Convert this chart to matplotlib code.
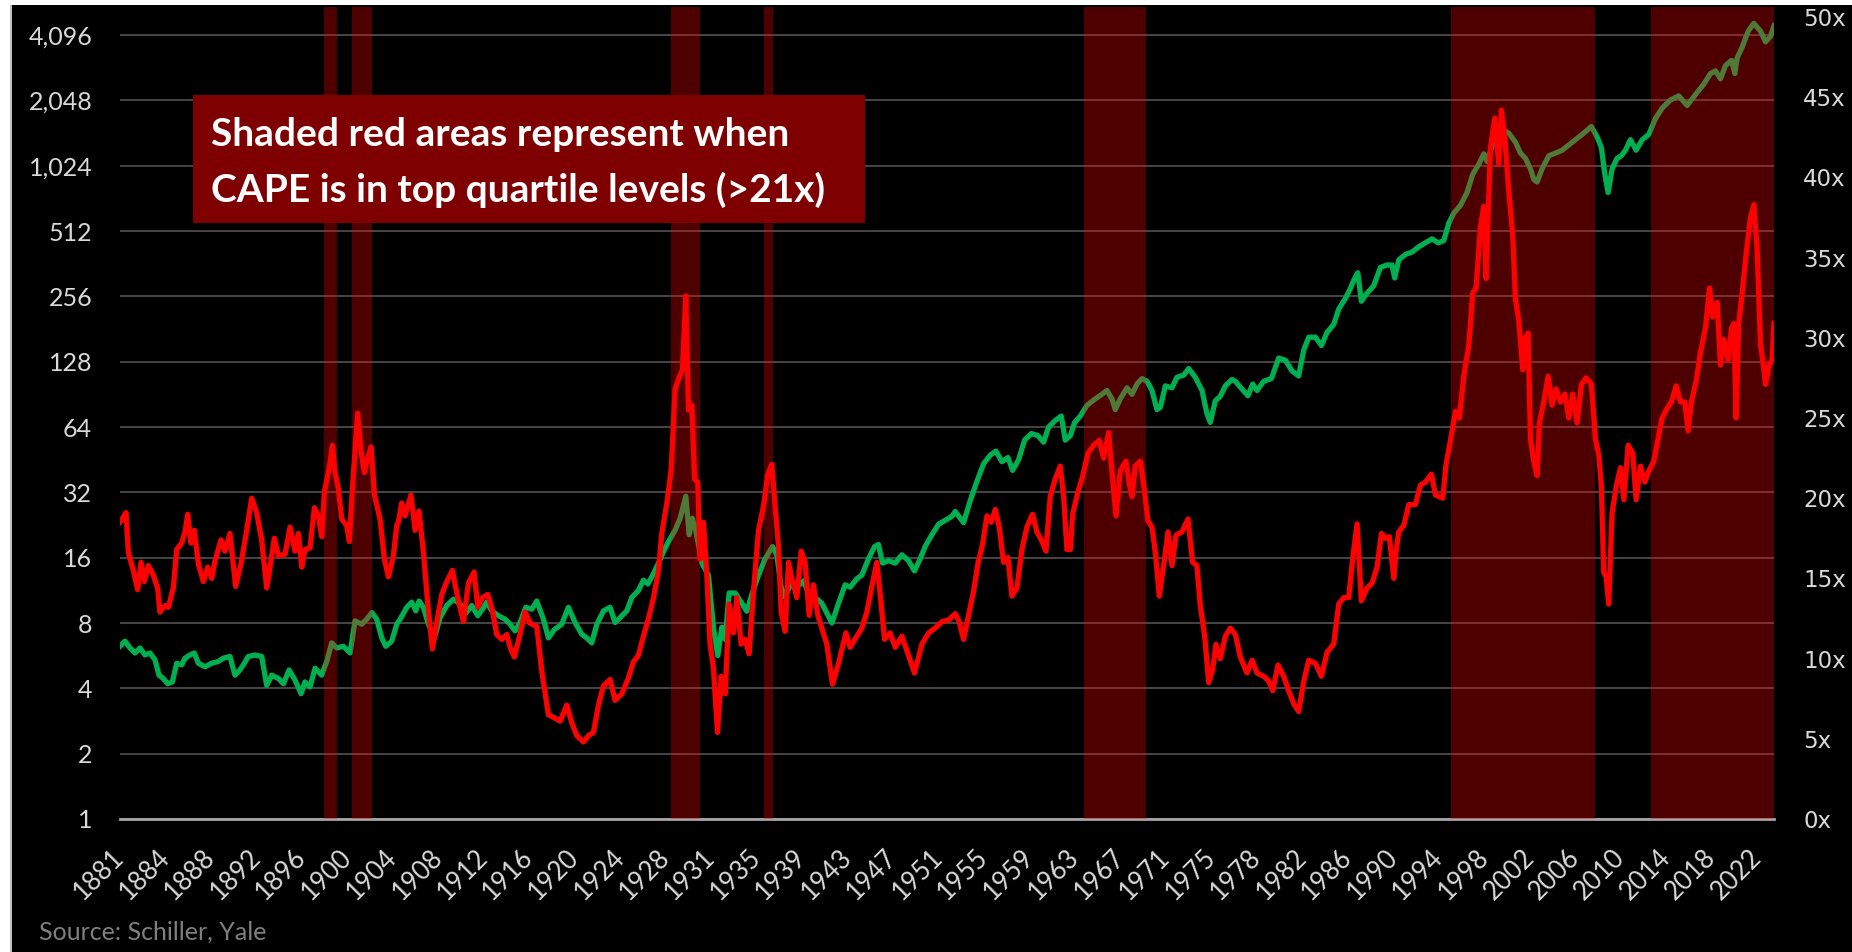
import numpy as np
import matplotlib.pyplot as plt
from matplotlib.patches import Rectangle
from matplotlib.ticker import FixedLocator, FuncFormatter

plt.rcParams['font.family'] = ['Lato', 'DejaVu Sans']

# Shiller CAPE (right axis): (year, value)
cape_years = [1881.00, 1881.52, 1881.72, 1882.15, 1882.52, 1882.81, 1883.10, 1883.44, 1883.87, 1884.24,
              1884.44, 1884.88, 1885.16, 1885.59, 1885.88, 1886.31, 1886.60, 1886.83, 1887.11, 1887.40,
              1887.75, 1888.18, 1888.55, 1888.90, 1889.18, 1889.70, 1890.04, 1890.47, 1890.96, 1891.42,
              1891.91, 1892.34, 1892.77, 1893.20, 1893.63, 1893.92, 1894.29, 1894.64, 1895.21, 1895.64,
              1896.07, 1896.36, 1896.65, 1896.93, 1897.36, 1897.74, 1898.08, 1898.37, 1898.60, 1899.00,
              1899.29, 1899.52, 1899.80, 1900.09, 1900.52, 1900.75, 1901.01, 1901.47, 1901.76, 1902.04,
              1902.33, 1902.62, 1902.91, 1903.39, 1903.77, 1904.11, 1904.54, 1904.83,
              1904.97, 1905.26, 1905.55, 1906.06, 1906.41, 1906.75, 1907.13, 1907.50, 1907.90, 1908.28,
              1908.71, 1909.14, 1909.62, 1910.08, 1910.57, 1911.00, 1911.49, 1911.81, 1912.21, 1912.67,
              1913.07, 1913.44, 1913.87, 1914.30, 1914.59, 1914.96, 1915.37, 1915.88, 1916.31, 1916.89,
              1917.32, 1917.89, 1918.41, 1918.90, 1919.47, 1919.90, 1920.33, 1920.91, 1921.34, 1921.77,
              1922.20, 1922.63, 1923.20, 1923.63, 1924.21, 1924.78, 1925.21, 1925.64, 1926.07, 1926.51,
              1926.94, 1927.37, 1927.65, 1928.09, 1928.46,
              1928.80, 1929.14, 1929.43, 1929.72, 1929.95, 1930.24, 1930.47, 1930.75, 1930.95, 1931.24,
              1931.53, 1931.81, 1932.10, 1932.45, 1932.76, 1933.11, 1933.45, 1933.82, 1934.11, 1934.48,
              1934.83, 1935.17, 1935.55, 1935.98, 1936.41, 1936.78, 1937.13, 1937.41, 1937.70, 1937.93,
              1938.27, 1938.56, 1938.85, 1939.28, 1939.65, 1939.99, 1940.34, 1940.71, 1941.09, 1941.43,
              1941.86, 1942.35, 1942.87, 1943.50, 1943.87, 1944.45, 1944.88, 1945.31, 1945.74, 1946.17,
              1946.54, 1946.83, 1947.32, 1947.75, 1948.32, 1948.90, 1949.41, 1950.05, 1950.62, 1951.19,
              1951.77, 1952.34,
              1952.92, 1953.26, 1953.64, 1954.07, 1954.50, 1954.87, 1955.27, 1955.65, 1956.02, 1956.37,
              1956.71, 1957.08, 1957.46, 1957.80, 1958.23, 1958.66, 1959.09, 1959.58, 1959.95, 1960.33,
              1960.73, 1961.10, 1961.53, 1961.96, 1962.25, 1962.54, 1962.83, 1963.03, 1963.49, 1963.83,
              1964.35, 1964.84, 1965.32, 1965.70, 1966.13, 1966.41, 1966.76, 1967.13, 1967.62, 1967.91,
              1968.14, 1968.42, 1968.85, 1969.14, 1969.51, 1969.86, 1970.15, 1970.49, 1970.86, 1971.24,
              1971.58, 1971.93, 1972.44, 1972.96, 1973.36, 1973.73, 1974.02, 1974.40, 1974.74, 1975.08,
              1975.37, 1975.74, 1976.18, 1976.61,
              1977.04, 1977.47, 1978.04, 1978.48, 1978.91, 1979.48, 1979.91, 1980.26, 1980.71, 1981.20,
              1981.63, 1982.06, 1982.49, 1982.93, 1983.36, 1983.93, 1984.45, 1984.94, 1985.51, 1985.94,
              1986.37, 1986.80, 1987.15, 1987.52, 1987.89, 1988.38, 1988.81, 1989.24, 1989.62, 1989.96,
              1990.30, 1990.68, 1990.88, 1991.11, 1991.54, 1991.97, 1992.54, 1992.97, 1993.40, 1993.92,
              1994.27, 1994.90, 1995.18, 1995.56, 1995.99, 1996.33, 1996.71, 1997.14, 1997.48, 1997.77,
              1998.14, 1998.43, 1998.63, 1999.00, 1999.38, 1999.72, 1999.95, 2000.24, 2000.58, 2000.93,
              2001.16, 2001.44,
              2001.79, 2001.96, 2002.25, 2002.45, 2002.74, 2003.02, 2003.22, 2003.60, 2003.97, 2004.31,
              2004.66, 2005.03, 2005.41, 2005.75, 2006.09, 2006.47, 2006.84, 2007.24, 2007.70, 2008.05,
              2008.33, 2008.56, 2008.76, 2008.96, 2009.19, 2009.48, 2009.83, 2010.20, 2010.49, 2010.86,
              2011.26, 2011.55, 2011.92, 2012.30, 2012.64, 2013.07, 2013.44, 2013.79, 2014.22, 2014.59,
              2014.99, 2015.37, 2015.74, 2016.03, 2016.31, 2016.72, 2017.09, 2017.52, 2017.87, 2018.15,
              2018.53, 2018.81, 2019.10, 2019.47, 2019.76, 2019.96, 2020.16, 2020.39, 2020.74, 2021.02,
              2021.40, 2021.68, 2021.97, 2022.26, 2022.55, 2022.69, 2022.98, 2023.26, 2023.42]
cape_values = [18.5, 19.1, 16.6, 15.5, 14.3, 16.0, 14.8, 15.8, 15.2, 14.4,
               12.9, 13.3, 13.2, 14.4, 16.8, 17.2, 17.9, 19.0, 17.2, 18.0,
               15.9, 14.8, 15.7, 15.0, 16.1, 17.4, 16.7, 17.8, 14.5, 15.9,
               18.0, 20.0, 19.1, 17.4, 14.4, 15.7, 17.5, 16.4, 16.5, 18.2,
               16.7, 17.8, 15.7, 16.8, 16.9, 19.4, 18.9, 17.6, 20.4, 21.8,
               23.3, 21.6, 20.6, 18.7, 18.3, 17.3, 20.6, 25.3, 22.9, 21.6,
               22.5, 23.2, 20.2, 18.7, 16.2, 15.1, 16.4, 18.3,
               18.5, 19.7, 18.9, 20.2, 18.0, 19.2, 16.6, 13.4, 10.6, 12.3,
               14.0, 14.8, 15.5, 13.8, 12.3, 14.7, 15.4, 13.2, 13.8, 14.0,
               13.0, 11.5, 11.2, 11.5, 10.7, 10.1, 11.3, 12.9, 12.2, 12.0,
               9.2, 6.5, 6.3, 6.1, 7.1, 6.0, 5.2, 4.8, 5.2, 5.4,
               7.1, 8.3, 8.7, 7.4, 7.8, 8.8, 9.8, 10.2, 11.4, 12.5,
               13.8, 15.5, 17.8, 19.7, 21.8,
               26.8, 27.5, 28.0, 32.6, 25.5, 25.8, 21.2, 21.0, 16.2, 18.5,
               15.2, 10.9, 9.4, 5.4, 8.9, 7.8, 13.4, 11.6, 13.8, 10.9,
               11.2, 10.3, 14.2, 18.0, 19.5, 21.5, 22.1, 19.5, 17.0, 12.9,
               11.7, 16.0, 15.0, 13.8, 16.7, 16.0, 12.7, 14.6, 12.7, 11.9,
               10.9, 8.4, 9.7, 11.6, 10.7, 11.4, 11.9, 12.9, 14.5, 16.0,
               13.4, 11.2, 11.6, 10.7, 11.4, 10.2, 9.1, 10.9, 11.6, 11.9,
               12.3, 12.4,
               12.8, 12.3, 11.2, 12.7, 14.2, 15.9, 17.1, 18.9, 18.5, 19.3,
               18.2, 16.0, 16.3, 13.9, 14.4, 16.8, 18.2, 19.0, 17.9, 17.4,
               16.7, 20.1, 21.2, 22.0, 20.1, 16.8, 16.8, 19.0, 20.4, 21.2,
               22.8, 23.3, 23.6, 22.5, 24.1, 21.7, 18.9, 21.7, 22.3, 20.9,
               20.1, 22.0, 22.3, 20.9, 18.6, 18.2, 16.6, 13.9, 15.8, 17.9,
               15.8, 17.7, 17.9, 18.7, 16.0, 15.8, 13.3, 11.4, 8.5, 9.3,
               10.9, 10.0, 11.4, 11.9,
               11.5, 10.1, 9.1, 9.9, 9.1, 8.9, 8.6, 8.0, 9.6, 8.9,
               8.0, 7.2, 6.7, 8.6, 9.9, 9.7, 8.9, 10.4, 10.9, 13.4,
               13.8, 13.8, 16.3, 18.4, 13.6, 14.4, 14.7, 15.7, 17.8, 17.5,
               17.6, 15.0, 16.7, 17.9, 18.3, 19.6, 19.6, 20.8, 21.0, 21.5,
               20.2, 20.0, 22.1, 23.6, 25.4, 25.0, 27.6, 29.5, 32.8, 33.1,
               36.9, 38.2, 33.7, 41.8, 43.7, 40.8, 44.2, 42.4, 39.2, 36.3,
               32.4, 31.1,
               28.0, 29.9, 30.3, 23.7, 22.3, 21.4, 24.7, 26.0, 27.6, 25.8,
               26.8, 26.0, 26.5, 25.0, 26.5, 24.7, 27.1, 27.5, 27.1, 23.7,
               22.7, 20.7, 15.4, 15.1, 13.4, 19.1, 20.7, 21.9, 19.9, 23.3,
               22.8, 19.9, 22.0, 21.0, 21.7, 22.3, 23.7, 25.0, 25.6, 26.0,
               27.0, 26.0, 26.0, 24.2, 26.0, 27.3, 29.1, 30.6, 33.1, 31.3,
               32.2, 28.3, 29.9, 28.6, 30.6, 30.9, 25.0, 30.9, 33.2, 35.2,
               37.5, 38.3, 35.5, 29.6, 28.0, 27.1, 28.3, 28.6, 30.9]

# S&P composite price (left log axis): (year, value)
price_years = [1881.00, 1881.43, 1881.86, 1882.29, 1882.72, 1883.15, 1883.58, 1884.01, 1884.36, 1884.73,
               1885.10, 1885.51, 1885.88, 1886.31, 1886.60, 1887.03, 1887.40, 1887.75, 1888.32, 1888.90,
               1889.47, 1889.90, 1890.47, 1890.90, 1891.33, 1891.62, 1892.05, 1892.63, 1893.20, 1893.63,
               1894.06, 1894.64, 1895.07, 1895.56, 1896.07, 1896.59, 1896.93, 1897.36, 1897.80, 1898.37,
               1898.80, 1899.23, 1899.66, 1900.24, 1900.81, 1901.24, 1901.81, 1902.25, 1902.68, 1903.11,
               1903.54, 1903.88, 1904.40, 1904.83,
               1905.12, 1905.69, 1906.12, 1906.47, 1906.75, 1907.13, 1907.56, 1908.07, 1908.56, 1909.14,
               1909.71, 1910.28, 1910.72, 1911.29, 1911.81, 1912.21, 1912.58, 1913.01, 1913.59, 1914.16,
               1914.59, 1915.02, 1915.45, 1915.94, 1916.46, 1916.89, 1917.46, 1917.89, 1918.41, 1919.04,
               1919.61, 1920.19, 1920.76, 1921.19, 1921.62, 1922.06, 1922.63, 1923.20, 1923.63, 1924.21,
               1924.64, 1925.07, 1925.64, 1926.07, 1926.45, 1926.94, 1927.37, 1927.80, 1928.23,
               1928.80, 1929.23, 1929.72, 1930.01, 1930.29, 1930.58, 1931.10, 1931.67, 1932.10, 1932.47,
               1932.82, 1933.11, 1933.45, 1933.97, 1934.54, 1934.97, 1935.40, 1935.98, 1936.55, 1937.18,
               1937.56, 1937.93, 1938.27, 1938.71, 1939.28, 1939.85, 1940.28, 1940.86, 1941.43, 1941.95,
               1942.30, 1942.87, 1943.44, 1943.87, 1944.45, 1944.88, 1945.45, 1945.97, 1946.31, 1946.66,
               1947.17, 1947.75, 1948.32, 1948.90, 1949.41, 1949.90, 1950.33, 1950.91, 1951.48, 1952.06,
               1952.63,
               1952.92, 1953.64, 1954.21, 1954.79, 1955.36, 1955.94, 1956.42, 1956.94, 1957.46, 1957.86,
               1958.38, 1958.89, 1959.47, 1960.04, 1960.53, 1960.96, 1961.53, 1962.05, 1962.39, 1962.83,
               1963.20, 1963.69, 1964.26, 1964.98, 1965.55, 1965.98, 1966.41, 1966.70, 1967.13, 1967.71,
               1968.14, 1968.57, 1969.00, 1969.43, 1969.86, 1970.29, 1970.58, 1971.01, 1971.58, 1972.01,
               1972.59, 1973.02, 1973.59, 1974.17, 1974.60, 1974.88, 1975.31, 1975.74, 1976.18, 1976.75,
               1977.04, 1977.61, 1978.13, 1978.53, 1978.91, 1979.48, 1980.14, 1980.77, 1981.35, 1981.92,
               1982.49, 1982.93, 1983.36, 1983.93, 1984.45, 1984.94, 1985.51, 1985.94, 1986.51, 1986.95,
               1987.23, 1987.58, 1987.89, 1988.38, 1988.95, 1989.53, 1990.10, 1990.53, 1990.76, 1991.11,
               1991.68, 1992.26, 1992.83, 1993.40, 1993.98, 1994.50, 1994.98, 1995.41, 1995.84, 1996.42,
               1996.99, 1997.48, 1998.00, 1998.43, 1998.72, 1999.15, 1999.72, 2000.15, 2000.58,
               2001.16, 2001.59, 2002.02, 2002.45, 2002.74, 2003.02, 2003.45, 2004.03, 2004.60, 2005.18,
               2005.75, 2006.32, 2006.90, 2007.70, 2008.19, 2008.56, 2008.85, 2009.14, 2009.48, 2009.91,
               2010.29, 2010.63, 2011.06, 2011.55, 2012.07, 2012.64, 2013.21, 2013.79, 2014.51, 2015.22,
               2015.94, 2016.66, 2017.38, 2017.95, 2018.38, 2018.81, 2019.24, 2019.76, 2020.05, 2020.25,
               2020.68, 2021.20, 2021.68, 2022.26, 2022.69, 2023.12, 2023.42]
price_values = [6.25, 6.6, 6.14, 5.82, 6.14, 5.7, 5.82, 5.42, 4.6, 4.44,
                4.2, 4.28, 5.22, 5.13, 5.51, 5.7, 5.82, 5.22, 5.03, 5.22,
                5.32, 5.51, 5.61, 4.6, 4.86, 5.13, 5.61, 5.7, 5.61, 4.13,
                4.6, 4.44, 4.2, 4.86, 4.37, 3.78, 4.28, 4.06, 4.95, 4.6,
                5.32, 6.48, 6.14, 6.25, 5.82, 8.18, 7.9, 8.33, 8.94, 8.33,
                6.83, 6.25, 6.6, 7.9,
                8.33, 9.45, 9.98, 9.1, 10.1, 9.45, 7.9, 6.83, 8.47, 9.63,
                10.3, 9.8, 8.8, 9.63, 8.64, 9.27, 9.98, 9.1, 8.64, 8.33,
                7.9, 7.36, 8.04, 9.45, 9.27, 10.1, 8.33, 6.83, 7.47, 7.9,
                9.45, 8.04, 7.1, 6.83, 6.48, 7.9, 9.1, 9.45, 8.04, 8.64,
                9.1, 10.5, 11.3, 12.6, 12.1, 13.5, 15.1, 17.1, 19.0,
                21.4, 24.3, 30.7, 20.4, 24.3, 21.4, 15.1, 13.3, 7.65, 5.66,
                7.65, 6.72, 11.0, 11.0, 9.87, 9.07, 10.8, 13.3, 15.8, 18.0,
                16.5, 11.7, 10.5, 12.0, 11.7, 12.5, 11.0, 10.5, 9.87, 8.7,
                8.0, 9.87, 12.0, 11.7, 12.8, 13.3, 15.8, 18.0, 18.4, 15.1,
                15.5, 15.1, 16.5, 15.5, 13.9, 15.8, 18.0, 20.4, 22.8, 23.8,
                24.8,
                26.1, 23.2, 29.3, 36.0, 43.3, 47.5, 49.6, 44.3, 46.3, 40.4,
                45.3, 55.7, 59.7, 58.4, 54.5, 64.0, 68.6, 71.9, 55.7, 58.4,
                67.2, 71.9, 80.5, 86.3, 90.5, 94.4, 86.3, 77.0, 86.3, 97.0,
                90.5, 101, 107, 104, 94.4, 77.0, 78.8, 99.0, 97.0, 108.5,
                111, 119, 108.5, 94.4, 73.5, 67.2, 84.4, 88.6, 99.0, 106,
                104, 95.7, 89.2, 101, 94.3, 104, 107, 133, 130, 116,
                110, 145, 166, 166, 152, 175, 190, 224, 250, 279,
                303, 329, 243, 265, 286, 348, 357, 357, 311, 377,
                399, 410, 433, 452, 471, 452, 462, 554, 618, 672,
                771, 935, 1040, 1162, 1070, 1261, 1408, 1489, 1448,
                1313, 1170, 1107, 990, 885, 861, 990, 1139, 1170, 1207,
                1276, 1349, 1427, 1552, 1387, 1241, 936, 770, 990, 1107,
                1139, 1207, 1349, 1207, 1349, 1427, 1688, 1887, 2058, 2148,
                1940, 2178, 2435, 2722, 2800, 2574, 2960, 3130, 2722, 3218,
                3605, 4270, 4640, 4270, 3810, 4040, 4520]

# periods when CAPE sat in its top quartile (shaded)
band_starts = [1898.54, 1900.96, 1928.46, 1936.47, 1963.97, 1995.64, 2012.85]
band_ends = [1899.69, 1902.73, 1930.96, 1937.27, 1969.31, 2008.04, 2023.42]

left_ticks = [1, 2, 4, 8, 16, 32, 64, 128, 256, 512, 1024, 2048, 4096]
right_ticks = [0, 5, 10, 15, 20, 25, 30, 35, 40, 45, 50]
year_labels = ['1881', '1884', '1888', '1892', '1896', '1900', '1904', '1908', '1912', '1916',
               '1920', '1924', '1928', '1931', '1935', '1939', '1943', '1947', '1951', '1955',
               '1959', '1963', '1967', '1971', '1975', '1978', '1982', '1986', '1990', '1994',
               '1998', '2002', '2006', '2010', '2014', '2018', '2022']
label_step_months = 47

W, H = 1852, 952
fig = plt.figure(figsize=(W / 100, H / 100), dpi=100, facecolor='black')

# white screenshot edge at top/left
fig.patches.append(Rectangle((0, 0), 10 / W, 1, transform=fig.transFigure, facecolor='white', lw=0))
fig.patches.append(Rectangle((0, 1 - 5 / H), 1, 5 / H, transform=fig.transFigure, facecolor='white', lw=0))
fig.patches.append(Rectangle((10 / W, 0), 1.5 / W, 1 - 5 / H, transform=fig.transFigure,
                             facecolor='#bfbfbf', lw=0))

ax = fig.add_axes([120 / W, 133 / H, 1654 / W, 812 / H])
ax.set_facecolor('black')
ax.set_yscale('log', base=2)
ax.set_xlim(1881, 2023.42)
ax.set_ylim(1, 2 ** ((819 - 7) / 65.33))

ax.plot(price_years, price_values, color='#00b050', lw=3.8, zorder=2, solid_joinstyle='round')
for s, e in zip(band_starts, band_ends):
    ax.axvspan(s, e, color='#ff0000', alpha=0.31, lw=0, zorder=3)

ax.yaxis.set_major_locator(FixedLocator(left_ticks))
ax.yaxis.set_minor_locator(FixedLocator([]))
ax.yaxis.set_major_formatter(FuncFormatter(lambda v, p: f'{v:,.0f}'))
ax.grid(axis='y', color='#595959', lw=1.1, zorder=1)
ax.set_axisbelow(True)
ax.tick_params(axis='y', length=0, pad=20, labelsize=18, labelcolor='#d9d9d9')

xticks = [1881 + k * label_step_months / 12 for k in range(len(year_labels))]
ax.set_xticks(xticks)
ax.set_xticklabels(year_labels, rotation=45, ha='right', va='center', rotation_mode='anchor')
ax.tick_params(axis='x', length=0, pad=25, labelsize=18.5, labelcolor='#d9d9d9')

for side in ['top', 'left', 'right']:
    ax.spines[side].set_visible(False)
ax.spines['bottom'].set_color('#a6a6a6')
ax.spines['bottom'].set_linewidth(2.0)
ax.spines['bottom'].set_zorder(2.5)

ax2 = ax.twinx()
ax2.set_ylim(0, (819 - 7) / 16.04)
ax2.plot(cape_years, cape_values, color='#ff0000', lw=3.8, solid_joinstyle='round')
ax2.set_yticks(right_ticks)
ax2.set_yticklabels([f'{v}x' for v in right_ticks], family='DejaVu Sans')
ax2.tick_params(axis='y', length=0, pad=21, labelsize=16.5, labelcolor='#d9d9d9')
for side in ax2.spines:
    ax2.spines[side].set_visible(False)
ax2.set_xlim(1881, 2023.42)

# annotation box
fig.patches.append(Rectangle((193 / W, 1 - 223 / H), 672 / W, 128 / H, transform=fig.transFigure,
                             facecolor='#7f0000', lw=0, zorder=10))
fig.text(211 / W, 1 - 146 / H, 'Shaded red areas represent when', color='white', fontsize=28,
         fontweight='bold', va='baseline', ha='left', zorder=11)
fig.text(211 / W, 1 - 202 / H, 'CAPE is in top quartile levels (>21x)', color='white', fontsize=28,
         fontweight='bold', va='baseline', ha='left', zorder=11)

fig.text(39 / W, 1 - 940 / H, 'Source: Schiller, Yale', color='#7f7f7f', fontsize=18,
         va='baseline', ha='left')

fig.savefig('out.png', dpi=100, facecolor=fig.get_facecolor())
